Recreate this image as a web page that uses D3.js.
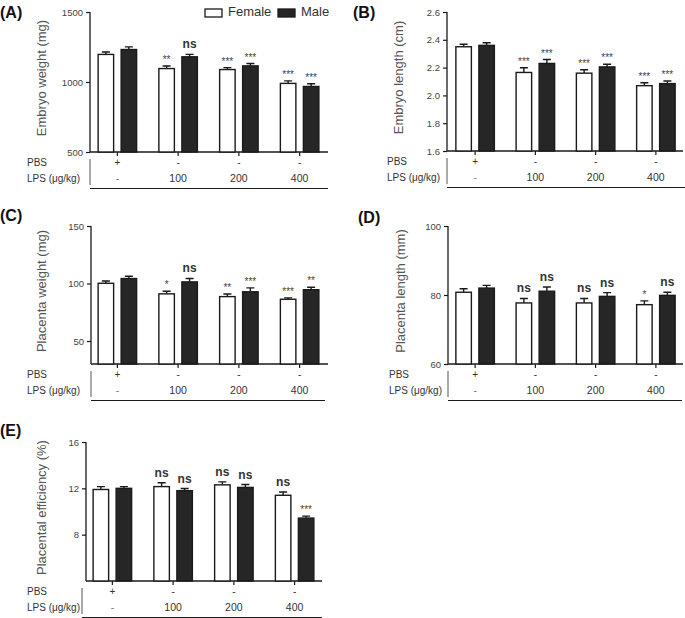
<!DOCTYPE html>
<html><head><meta charset="utf-8">
<script src="https://cdn.jsdelivr.net/npm/d3@7"></script>
<style>body{margin:0;background:#fff}svg{display:block;font-family:"Liberation Sans",Arial,sans-serif}</style>
</head><body><svg id="c" width="685" height="618"></svg>
<script>
// ---------- data ----------
const groups = ["PBS", "LPS100", "LPS200", "LPS400"];
const pbsRow = ["+", "-", "-", "-"];
const lpsRow = ["-", "100", "200", "400"];
const sexes = ["Female", "Male"];

// (A) Embryo weight (mg)
const embryoWeightFemale = [1197, 1096, 1089, 990];
const embryoWeightFemaleSEM = [17, 18, 14, 18];
const embryoWeightMale = [1232, 1180, 1115, 968];
const embryoWeightMaleSEM = [19, 17, 17, 19];
const embryoWeightSigFemale = ["", "**", "***", "***"];
const embryoWeightSigMale = ["", "ns", "***", "***"];
const embryoWeightTicks = [500, 1000, 1500];

// (B) Embryo length (cm)
const embryoLengthFemale = [2.35, 2.165, 2.16, 2.07];
const embryoLengthFemaleSEM = [0.018, 0.034, 0.025, 0.021];
const embryoLengthMale = [2.36, 2.23, 2.205, 2.085];
const embryoLengthMaleSEM = [0.019, 0.028, 0.019, 0.019];
const embryoLengthSigFemale = ["", "***", "***", "***"];
const embryoLengthSigMale = ["", "***", "***", "***"];
const embryoLengthTicks = [1.6, 1.8, 2.0, 2.2, 2.4, 2.6];

// (C) Placenta weight (mg)
const placentaWeightFemale = [100.2, 91, 88.6, 86.3];
const placentaWeightFemaleSEM = [2, 2.3, 2.3, 1.2];
const placentaWeightMale = [104.3, 101.4, 92.8, 94.6];
const placentaWeightMaleSEM = [2, 3, 3.4, 2.1];
const placentaWeightSigFemale = ["", "*", "**", "***"];
const placentaWeightSigMale = ["", "ns", "***", "**"];
const placentaWeightTicks = [50, 100, 150];

// (D) Placenta length (mm)
const placentaLengthFemale = [80.8, 77.7, 77.7, 77.2];
const placentaLengthFemaleSEM = [1, 1.3, 1.3, 1.1];
const placentaLengthMale = [82, 81.1, 79.6, 79.9];
const placentaLengthMaleSEM = [0.8, 1.2, 1.1, 0.9];
const placentaLengthSigFemale = ["", "ns", "ns", "*"];
const placentaLengthSigMale = ["", "ns", "ns", "ns"];
const placentaLengthTicks = [60, 80, 100];

// (E) Placental efficiency (%)
const efficiencyFemale = [11.9, 12.15, 12.3, 11.4];
const efficiencyFemaleSEM = [0.25, 0.33, 0.26, 0.28];
const efficiencyMale = [12.0, 11.8, 12.08, 9.43];
const efficiencyMaleSEM = [0.15, 0.18, 0.25, 0.17];
const efficiencySigFemale = ["", "ns", "ns", "ns"];
const efficiencySigMale = ["", "ns", "ns", "***"];
const efficiencyTicks = [8, 12, 16];

// ---------- layout ----------
const panels = [
  {tag:"(A)", tagX:0, tagY:18, label:"Embryo weight (mg)", labelX:43,
   axisX:90, xEnd:328, band:[87,330], top:12, bottom:152, domain:[500,1500], ticks:embryoWeightTicks, fmt:d3.format("d"),
   f:embryoWeightFemale, fe:embryoWeightFemaleSEM, m:embryoWeightMale, me:embryoWeightMaleSEM,
   fs:embryoWeightSigFemale, ms:embryoWeightSigMale, rowX:27, tableEnd:328, legend:true},
  {tag:"(B)", tagX:353, tagY:18, label:"Embryo length (cm)", labelX:400,
   axisX:447, xEnd:683, band:[445,686], top:12, bottom:151, domain:[1.6,2.6], ticks:embryoLengthTicks, fmt:d3.format(".1f"),
   f:embryoLengthFemale, fe:embryoLengthFemaleSEM, m:embryoLengthMale, me:embryoLengthMaleSEM,
   fs:embryoLengthSigFemale, ms:embryoLengthSigMale, rowX:387, tableEnd:685},
  {tag:"(C)", tagX:0, tagY:221, label:"Placenta weight (mg)", labelX:43,
   axisX:91, xEnd:328, band:[87,330], top:226, bottom:364, domain:[30,150], ticks:placentaWeightTicks, fmt:d3.format("d"),
   f:placentaWeightFemale, fe:placentaWeightFemaleSEM, m:placentaWeightMale, me:placentaWeightMaleSEM,
   fs:placentaWeightSigFemale, ms:placentaWeightSigMale, rowX:27, tableEnd:325},
  {tag:"(D)", tagX:358, tagY:223, label:"Placenta length (mm)", labelX:402,
   axisX:448, xEnd:683, band:[445,686], top:226, bottom:364, domain:[60,100], ticks:placentaLengthTicks, fmt:d3.format("d"),
   f:placentaLengthFemale, fe:placentaLengthFemaleSEM, m:placentaLengthMale, me:placentaLengthMaleSEM,
   fs:placentaLengthSigFemale, ms:placentaLengthSigMale, rowX:389, tableEnd:682},
  {tag:"(E)", tagX:0, tagY:436, label:"Placental efficiency (%)", labelX:43,
   axisX:82, xEnd:322, band:[82,325], top:442, bottom:581, domain:[4,16], ticks:efficiencyTicks, fmt:d3.format("d"),
   f:efficiencyFemale, fe:efficiencyFemaleSEM, m:efficiencyMale, me:efficiencyMaleSEM,
   fs:efficiencySigFemale, ms:efficiencySigMale, rowX:27, tableEnd:322}
];

const svg = d3.select("#c");
const barW = 15.5, gap = 7.5;
const ink = "#1a1a1a", darkFill = "#262626", textCol = "#333";

panels.forEach(p => {
  const g = svg.append("g");
  const x = d3.scaleBand().domain(groups).range(p.band);
  const y = d3.scaleLinear().domain(p.domain).range([p.bottom, p.top]);
  const sub = d3.scaleOrdinal().domain(sexes).range([-(gap/2 + barW), gap/2]);
  const axisX = p.tag === "(E)" ? 86 : p.axisX;
  const tableX = p.axisX;

  g.append("text").attr("x", p.tagX).attr("y", p.tagY).attr("font-size", 16).attr("font-weight", "bold")
    .attr("fill", "#111").text(p.tag);

  g.append("text").attr("transform", `translate(${p.labelX},${(p.top + p.bottom)/2 - 4}) rotate(-90)`)
    .attr("text-anchor", "middle").attr("dominant-baseline", "middle").attr("font-size", 13).attr("fill", "#555").text(p.label);

  const ya = g.append("g").attr("transform", `translate(${axisX},0)`)
    .call(d3.axisLeft(y).tickValues(p.ticks).tickFormat(p.fmt).tickSize(4).tickPadding(3));
  ya.select(".domain").attr("stroke", ink).attr("stroke-width", 1.3).attr("d", `M0,${p.top}V${p.bottom}`);
  ya.selectAll(".tick line").attr("stroke", ink).attr("stroke-width", 1.2);
  ya.selectAll(".tick text").attr("font-size", 9.5).attr("fill", "#444").attr("font-family", "Liberation Sans, Arial");

  const xa = g.append("g").attr("transform", `translate(0,${p.bottom})`)
    .call(d3.axisBottom(x).tickSize(4).tickFormat(""));
  xa.select(".domain").attr("stroke", ink).attr("stroke-width", 1.3).attr("d", `M${axisX},0H${p.xEnd}`);
  xa.selectAll(".tick line").attr("stroke", ink).attr("stroke-width", 1.2);

  const data = [];
  groups.forEach((grp, i) => {
    data.push({grp, sex:"Female", v:p.f[i], e:p.fe[i], s:p.fs[i]});
    data.push({grp, sex:"Male", v:p.m[i], e:p.me[i], s:p.ms[i]});
  });
  const bx = d => x(d.grp) + x.bandwidth()/2 + sub(d.sex);

  g.selectAll(".err").data(data).enter().append("path")
    .attr("d", d => {
      const cx = bx(d) + barW/2;
      return `M${cx},${y(d.v)}V${y(d.v + d.e)}M${cx-4},${y(d.v + d.e)}H${cx+4}`;
    })
    .attr("stroke", ink).attr("stroke-width", 1.4).attr("fill", "none");

  g.selectAll(".bar").data(data).enter().append("rect")
    .attr("x", d => bx(d)).attr("width", barW)
    .attr("y", d => y(d.v)).attr("height", d => p.bottom - y(d.v))
    .attr("fill", d => d.sex === "Female" ? "#fff" : darkFill)
    .attr("stroke", ink).attr("stroke-width", 1.4);

  g.selectAll(".sig").data(data.filter(d => d.s)).enter().append("text")
    .attr("x", d => bx(d) + barW/2)
    .attr("y", d => y(d.v + d.e) - (d.s === "ns" ? 6 : 3))
    .attr("text-anchor", "middle")
    .attr("font-size", d => d.s === "ns" ? 12 : 10)
    .attr("font-weight", d => d.s === "ns" ? "bold" : "normal")
    .attr("fill", d => d.s === "ns" ? "#333" : "#444")
    .text(d => d.s);

  const rowY1 = p.bottom + 11, rowY2 = p.bottom + 27;
  g.append("line").attr("x1", tableX).attr("x2", tableX).attr("y1", p.bottom + 7).attr("y2", p.bottom + 33)
    .attr("stroke", "#555").attr("stroke-width", 1);
  g.append("line").attr("x1", tableX).attr("x2", p.tableEnd).attr("y1", p.bottom + 36.5).attr("y2", p.bottom + 36.5)
    .attr("stroke", ink).attr("stroke-width", 1.2);
  g.append("text").attr("x", p.rowX).attr("y", rowY1).attr("dominant-baseline", "middle").attr("font-size", 10).attr("fill", textCol).text("PBS");
  g.append("text").attr("x", p.rowX).attr("y", rowY2).attr("dominant-baseline", "middle").attr("font-size", 10).attr("fill", textCol).text("LPS (μg/kg)");
  g.selectAll(".r1").data(groups).enter().append("text")
    .attr("x", d => x(d) + x.bandwidth()/2).attr("y", rowY1).attr("dominant-baseline", "middle")
    .attr("text-anchor", "middle").attr("font-size", 10).attr("fill", textCol).text((d, i) => pbsRow[i]);
  g.selectAll(".r2").data(groups).enter().append("text")
    .attr("x", d => x(d) + x.bandwidth()/2).attr("y", rowY2).attr("dominant-baseline", "middle")
    .attr("text-anchor", "middle").attr("font-size", 10.5).attr("fill", (d, i) => i === 0 ? "#777" : textCol).text((d, i) => lpsRow[i]);

  if (p.legend) {
    const items = [{name:"Female", x:205, fill:"#fff"}, {name:"Male", x:278, fill:darkFill}];
    items.forEach(it => {
      g.append("rect").attr("x", it.x).attr("y", 9).attr("width", 17).attr("height", 8)
        .attr("fill", it.fill).attr("stroke", ink).attr("stroke-width", 1.3);
      g.append("text").attr("x", it.x + 23).attr("y", 13).attr("dominant-baseline", "middle")
        .attr("font-size", 13).attr("fill", "#333").text(it.name);
    });
  }
});
</script></body></html>
